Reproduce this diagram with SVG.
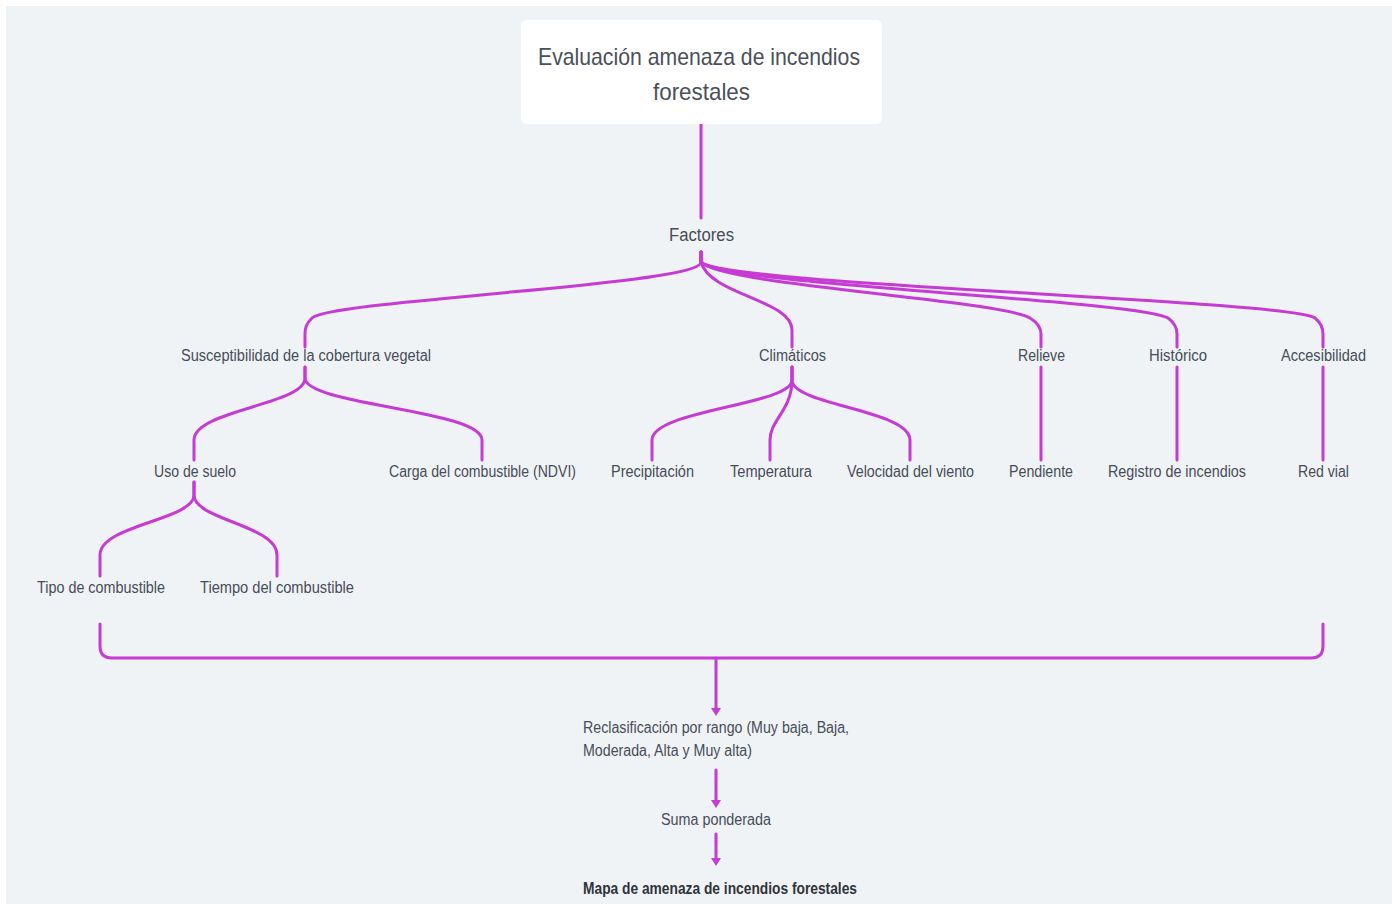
<svg xmlns="http://www.w3.org/2000/svg" width="1394" height="904" viewBox="0 0 1394 904">
<style>
.t{font-family:"Liberation Sans","DejaVu Sans",sans-serif;fill:#474d57;font-size:16px}
.c{stroke:#c53bd4;stroke-width:3;fill:none;stroke-linecap:round}
.root{font-size:24px;fill:#4a505a}
.b{font-weight:bold;fill:#2f343c}
.ah{fill:#c53bd4}
</style>
<rect x="0" y="0" width="1394" height="904" fill="#ffffff"/>
<rect x="6" y="6" width="1386" height="898" fill="#eff3f6"/>

<g id="connectors">
<path class="c" d="M701,124 V218"/>
<path class="c" d="M701,252 V262 C701,285 330,300 312,318 C306,324 305,328 305,334 V347"/>
<path class="c" d="M701,252 V262 C710,295 792,300 792,330 V347"/>
<path class="c" d="M701,252 V262 C720,285 1000,300 1030,318 C1038,323 1041,328 1041,334 V347"/>
<path class="c" d="M701,252 V262 C720,285 1140,300 1168,318 C1175,323 1177,328 1177,334 V347"/>
<path class="c" d="M701,252 V262 C720,285 1290,300 1315,318 C1321,323 1323,328 1323,334 V347"/>
<path class="c" d="M305,367 V378 C305,405 194,410 194,440 V460"/>
<path class="c" d="M305,367 V378 C305,405 482,410 482,440 V460"/>
<path class="c" d="M792,367 V380 C792,405 652,410 652,440 V460"/>
<path class="c" d="M792,367 V380 C792,410 770,420 770,440 V460"/>
<path class="c" d="M792,367 V380 C792,405 910,410 910,440 V460"/>
<path class="c" d="M1041,367 V460"/>
<path class="c" d="M1177,367 V460"/>
<path class="c" d="M1323,367 V460"/>
<path class="c" d="M194,482 V495 C194,520 100,525 100,555 V576"/>
<path class="c" d="M194,482 V495 C194,520 277,525 277,555 V576"/>
<path class="c" d="M100,624 V646 Q100,658 112,658 H1311 Q1323,658 1323,646 V624"/>
<path class="c" d="M716,658 V710"/>
<path class="ah" d="M711,708 H721 L716,716 Z"/>
<path class="c" d="M716,770 V802"/>
<path class="ah" d="M711,800 H721 L716,808 Z"/>
<path class="c" d="M716,834 V860"/>
<path class="ah" d="M711,858 H721 L716,866 Z"/>
</g>

<g id="root">
<rect x="521" y="20" width="361" height="104" rx="6" fill="#ffffff"/>
<text class="t root" x="538" y="65" textLength="322" lengthAdjust="spacingAndGlyphs">Evaluación amenaza de incendios</text>
<text class="t root" x="653" y="100" textLength="97" lengthAdjust="spacingAndGlyphs">forestales</text>
</g>
<g id="factores"><text class="t" style="font-size:18px" x="669" y="241" textLength="65" lengthAdjust="spacingAndGlyphs">Factores</text></g>

<g id="susceptibilidad"><text class="t" x="181" y="361" textLength="250" lengthAdjust="spacingAndGlyphs">Susceptibilidad de la cobertura vegetal</text></g>
<g id="climaticos"><text class="t" x="759" y="361" textLength="67" lengthAdjust="spacingAndGlyphs">Climáticos</text></g>
<g id="relieve"><text class="t" x="1018" y="361" textLength="47" lengthAdjust="spacingAndGlyphs">Relieve</text></g>
<g id="historico"><text class="t" x="1149" y="361" textLength="58" lengthAdjust="spacingAndGlyphs">Histórico</text></g>
<g id="accesibilidad"><text class="t" x="1281" y="361" textLength="85" lengthAdjust="spacingAndGlyphs">Accesibilidad</text></g>

<g id="uso"><text class="t" x="154" y="477" textLength="82" lengthAdjust="spacingAndGlyphs">Uso de suelo</text></g>
<g id="carga"><text class="t" x="389" y="477" textLength="187" lengthAdjust="spacingAndGlyphs">Carga del combustible (NDVI)</text></g>
<g id="precipitacion"><text class="t" x="611" y="477" textLength="83" lengthAdjust="spacingAndGlyphs">Precipitación</text></g>
<g id="temperatura"><text class="t" x="730" y="477" textLength="82" lengthAdjust="spacingAndGlyphs">Temperatura</text></g>
<g id="velocidad"><text class="t" x="847" y="477" textLength="127" lengthAdjust="spacingAndGlyphs">Velocidad del viento</text></g>
<g id="pendiente"><text class="t" x="1009" y="477" textLength="64" lengthAdjust="spacingAndGlyphs">Pendiente</text></g>
<g id="registro"><text class="t" x="1108" y="477" textLength="138" lengthAdjust="spacingAndGlyphs">Registro de incendios</text></g>
<g id="redvial"><text class="t" x="1298" y="477" textLength="51" lengthAdjust="spacingAndGlyphs">Red vial</text></g>

<g id="tipo"><text class="t" x="37" y="593" textLength="128" lengthAdjust="spacingAndGlyphs">Tipo de combustible</text></g>
<g id="tiempo"><text class="t" x="200" y="593" textLength="154" lengthAdjust="spacingAndGlyphs">Tiempo del combustible</text></g>

<g id="reclasificacion">
<text class="t" x="583" y="733" textLength="266" lengthAdjust="spacingAndGlyphs">Reclasificación por rango (Muy baja, Baja,</text>
<text class="t" x="583" y="756" textLength="169" lengthAdjust="spacingAndGlyphs">Moderada, Alta y Muy alta)</text>
</g>
<g id="suma"><text class="t" x="661" y="825" textLength="110" lengthAdjust="spacingAndGlyphs">Suma ponderada</text></g>
<g id="mapa"><text class="t b" x="583" y="894" textLength="274" lengthAdjust="spacingAndGlyphs">Mapa de amenaza de incendios forestales</text></g>
</svg>
